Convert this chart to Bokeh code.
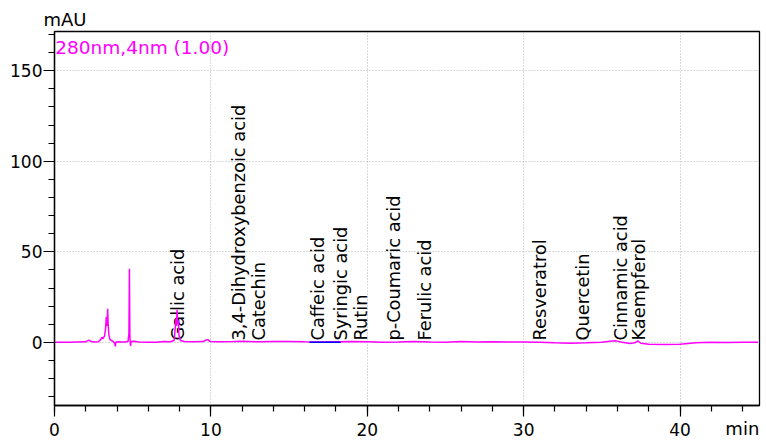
import math

from bokeh.core.properties import value
from bokeh.embed import file_html
from bokeh.models import ColumnDataSource, Label, Range1d, SingleIntervalTicker
from bokeh.plotting import figure
from bokeh.resources import INLINE

# Chromatogram at 280 nm: retention time (min) and absorbance (mAU)
times = [
    0.0, 0.5, 1.0, 1.5, 2.0, 2.1, 2.2, 2.3, 2.5, 2.8, 2.95, 3.03, 3.1, 3.2,
    3.27, 3.31, 3.34, 3.37, 3.40, 3.43, 3.48, 3.55, 3.65, 3.75, 3.85, 3.89,
    3.93, 4.1, 4.3, 4.5, 4.7, 4.76, 4.79, 4.82, 4.86, 4.9, 5.1, 5.4, 6.0,
    6.5, 7.0, 7.4, 7.65, 7.72, 7.77, 7.80, 7.84, 7.88, 7.92, 7.96, 8.05,
    8.3, 8.8, 9.5, 9.7, 9.8, 9.95, 10.5, 11.5, 12.0, 13.0, 14.0, 15.0,
    16.0, 17.0, 18.0, 19.0, 20.0, 21.0, 22.0, 23.0, 24.0, 25.0, 26.0, 27.0,
    28.0, 29.0, 30.0, 31.0, 32.0, 33.0, 34.0, 35.0, 35.5, 35.9, 36.3, 36.8,
    37.1, 37.3, 37.5, 38.0, 39.0, 40.0, 40.5, 41.0, 42.0, 43.0, 44.0, 45.0,
]
absorbance = [
    0.0, 0.1, 0.0, 0.2, 0.3, 0.8, 1.2, 0.6, 0.2, 0.3, 1.5, 2.8, 2.0, 3.5,
    8.0, 14.0, 9.0, 12.0, 18.5, 10.0, 4.0, 1.5, 1.0, 0.5, -0.5, -2.2,
    0.2, 0.3, 0.2, 0.2, 0.4, 5.0, 40.6, 3.0, -2.0, 0.5, 0.6, 0.2, 0.1,
    0.1, 0.4, 0.3, 1.0, 8.0, 13.0, 9.0, 18.0, 10.0, 12.0, 4.0, 1.0,
    0.5, 0.3, 0.4, 1.3, 1.5, 0.5, 0.3, 0.4, 0.6, 0.3, 0.4, 0.5,
    0.3, 0.2, 0.3, 0.4, 0.3, 0.1, 0.2, 0.4, 0.2, 0.1, 0.5, 0.2,
    0.3, 0.2, 0.2, 0.1, -0.3, -0.5, -0.3, 0.0, 0.6, 0.8, 0.1, -0.6,
    -0.3, 0.8, -0.5, -1.1, -1.2, -1.1, -0.6, -0.2, 0.0, -0.1, 0.0, 0.0,
]

# Integration baseline drawn under the caffeic acid peak
caffeic_baseline_t = [16.3, 18.3]
caffeic_baseline_y = [0.0, 0.0]

# Identified compounds and their retention times (min)
peak_names = [
    "Gallic acid", "3,4-Dihydroxybenzoic acid", "Catechin", "Caffeic acid",
    "Syringic acid", "Rutin", "p-Coumaric acid", "Ferulic acid",
    "Resveratrol", "Quercetin", "Cinnamic acid", "Kaempferol",
]
peak_times = [
    7.86, 11.79, 13.04, 16.81, 18.27, 19.55, 21.66, 23.64,
    30.99, 33.74, 36.17, 37.32,
]

FONT = "DejaVu Sans"

p = figure(
    width=766, height=443,
    output_backend="svg", toolbar_location=None,
    x_range=Range1d(0, 45.08), y_range=Range1d(-34.9, 171.7),
    min_border_left=54, min_border_right=7,
    min_border_top=31, min_border_bottom=38,
    background_fill_color="white", border_fill_color="white",
)

# Unit of the signal, above the top-left corner of the frame
p.title.text = "mAU"
p.title.align = "left"
p.title.offset = -11
p.title.standoff = 3
p.title.text_font = FONT
p.title.text_font_size = "18px"
p.title.text_font_style = "normal"
p.title.text_color = "black"

x_ticker = SingleIntervalTicker(interval=10, num_minor_ticks=5)
y_ticker = SingleIntervalTicker(interval=50, num_minor_ticks=5)
p.xaxis.ticker = x_ticker
p.yaxis.ticker = y_ticker
p.xgrid.ticker = x_ticker
p.ygrid.ticker = y_ticker

for grid in (p.xgrid, p.ygrid):
    grid.grid_line_color = "#b4b4b4"
    grid.grid_line_dash = "1 2"
    grid.grid_line_width = 1

for axis in (p.xaxis, p.yaxis):
    axis.axis_line_color = "black"
    axis.axis_line_width = 1.3
    axis.major_tick_line_color = "black"
    axis.minor_tick_line_color = "black"
    axis.major_tick_line_width = 1.2
    axis.minor_tick_line_width = 1.2
    axis.major_tick_in = 0
    axis.major_tick_out = 11
    axis.minor_tick_in = 0
    axis.minor_tick_out = 6
    axis.major_label_text_font = FONT
    axis.major_label_text_font_size = "17px"
    axis.major_label_text_color = "black"

p.xaxis.major_label_standoff = 6
p.yaxis.major_label_standoff = 1

# Time unit sits at the right end, level with the tick labels; the label is
# centred on the axis end, so trailing no-break spaces pull it inside the edge
p.xaxis.axis_label = "min" + "\u00a0" * 6
p.xaxis.axis_label_align = "end"
p.xaxis.axis_label_standoff = -21
p.xaxis.axis_label_text_font = FONT
p.xaxis.axis_label_text_font_size = "18px"
p.xaxis.axis_label_text_font_style = "normal"
p.xaxis.axis_label_text_color = "black"

p.outline_line_color = "black"
p.outline_line_width = 1.3

# Peak names, written upward from just above the baseline
labels_src = ColumnDataSource(dict(t=peak_times, name=peak_names))
p.text(
    x="t", y=1.0, text="name", source=labels_src,
    angle=math.pi / 2, text_align="left", text_baseline="middle",
    text_font=value(FONT), text_font_size="17.8px", text_color="black",
)

# Detector trace
p.line(times, absorbance, line_color="#ff00ff", line_width=1.5)
p.line(caffeic_baseline_t, caffeic_baseline_y, line_color="#0000ff", line_width=1.5)

# Channel caption
p.add_layout(Label(
    x=0.05, y=162.9, text="280nm,4nm (1.00)",
    text_font=FONT, text_font_size="18.5px", text_color="#ff00ff",
    text_baseline="alphabetic", text_align="left",
))

open("out.html", "w").write(file_html(p, INLINE))
